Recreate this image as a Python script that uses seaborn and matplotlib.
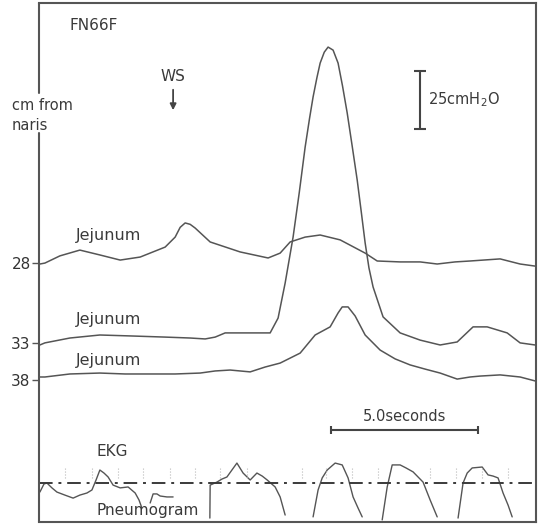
import numpy as np
import seaborn as sns
import matplotlib.pyplot as plt

# time in seconds, pressure in cmH2O (traces stacked on one scale)
t_28 = [0.03, 0.20, 0.71, 1.39, 2.07, 2.76, 3.44, 4.29, 4.63, 4.80, 4.97, 5.14, 5.31, 5.82, 6.84, 7.79, 8.20,
        8.54, 9.05, 9.56, 10.24, 11.09, 11.50, 12.28, 12.96, 13.54, 14.15, 14.66, 15.68, 16.36, 16.87]
p_28 = [111.2, 111.6, 114.7, 117.2, 115.1, 112.9, 114.2, 118.5, 122.8, 127.0, 128.9, 128.3, 126.7, 120.7, 116.4, 113.8, 115.9,
        120.7, 122.8, 123.7, 121.6, 115.9, 112.5, 112.1, 112.1, 111.2, 112.1, 112.5, 113.4, 111.2, 110.3]

t_33 = [0.03, 0.20, 1.05, 2.07, 3.10, 4.29, 5.14, 5.65, 5.99, 6.33, 7.01, 7.86, 8.13, 8.37, 8.64,
        8.85, 9.05, 9.20, 9.32, 9.45, 9.56, 9.70, 9.83, 10.0, 10.17, 10.32, 10.48, 10.65, 10.82, 10.96,
        11.09, 11.22, 11.36, 11.70, 12.28, 12.96, 13.64, 14.22, 14.76, 15.24, 15.92, 16.36, 16.87]
p_33 = [76.3, 77.2, 79.3, 80.6, 80.2, 79.7, 79.3, 78.9, 79.7, 81.5, 81.5, 81.5, 87.9, 103.0, 122.8,
        142.0, 161.6, 174.0, 183.2, 191.5, 197.8, 202.5, 204.7, 203.4, 197.8, 188.0, 176.3, 162.0, 147.4, 133.5,
        120.3, 109.5, 101.3, 88.4, 81.5, 78.4, 76.3, 77.6, 84.1, 84.1, 81.5, 77.2, 76.3]

t_38 = [0.03, 0.20, 1.05, 2.07, 2.93, 3.78, 4.63, 5.48, 5.99, 6.50, 7.18, 7.69, 8.20, 8.88, 9.39,
        9.90, 10.17, 10.31, 10.51, 10.75, 11.09, 11.60, 12.11, 12.62, 13.13, 13.64, 14.22, 14.66,
        15.00, 15.68, 16.36, 16.87]
p_38 = [62.5, 62.5, 63.8, 64.2, 63.8, 63.8, 63.8, 64.2, 65.1, 65.5, 64.7, 66.8, 68.5, 72.8, 80.6,
        84.1, 90.1, 92.7, 92.7, 88.8, 80.6, 74.1, 70.3, 67.7, 65.9, 64.2, 61.6, 62.5,
        62.9, 63.4, 62.5, 60.8]

# pneumogram pieces
pn_t = [
    [0.03, 0.17, 0.27, 0.44, 0.61, 0.88, 1.16, 1.39, 1.63, 1.80, 1.94, 2.07, 2.21, 2.35, 2.52, 2.76, 3.03, 3.27, 3.40, 3.50],
    [3.78, 3.88, 4.01, 4.12, 4.35, 4.56],
    [5.81, 5.82, 6.05, 6.22, 6.39, 6.56, 6.73, 6.94, 7.18, 7.41, 7.59, 7.76, 8.03, 8.20, 8.37],
    [9.32, 9.49, 9.63, 9.80, 10.07, 10.31, 10.51, 10.68, 10.85, 10.99],
    [11.67, 11.84, 12.01, 12.28, 12.48, 12.72, 13.06, 13.30, 13.54],
    [14.25, 14.42, 14.56, 14.73, 15.07, 15.27, 15.44, 15.61, 15.78, 15.95, 16.09],
]
pn_p = [
    [12.9, 16.4, 16.8, 14.7, 12.9, 11.6, 10.3, 11.6, 12.5, 13.8, 18.1, 22.4, 21.1, 19.4, 15.9, 14.7, 15.1, 12.5, 9.5, 6.0],
    [8.2, 12.1, 12.1, 11.2, 10.8, 10.8],
    [1.7, 15.9, 17.2, 18.5, 19.4, 22.4, 25.4, 21.1, 18.1, 21.1, 19.8, 18.1, 15.1, 10.8, 3.0],
    [2.2, 13.8, 19.0, 22.4, 25.4, 24.6, 19.0, 10.8, 6.0, 2.2],
    [0.9, 15.1, 24.6, 24.6, 23.3, 21.6, 17.2, 9.5, 2.2],
    [1.7, 16.8, 21.1, 23.3, 23.7, 20.3, 19.8, 19.0, 12.5, 7.3, 2.2],
]

ekg_level = 16.8
ekg_beats = [0.88, 1.80, 2.69, 3.54, 4.46, 5.31, 6.16, 7.07, 8.95, 9.76, 10.65, 11.53, 13.30, 14.18, 15.07, 15.95]

depth_labels = ["28", "33", "38"]
depth_pos = [111.6, 77.2, 61.2]

ws_time = 4.56

sns.set_style("white")
plt.rcParams['font.family'] = ['DejaVu Sans']

fig = plt.figure(figsize=(5.39, 5.26), dpi=100)
ax = fig.add_axes([39 / 539, 4 / 526, 497 / 539, 519 / 526])
ax.set_xlim(0, 16.9)
ax.set_ylim(0, 223.7)

ink = "#555555"
for tt, pp in [(t_28, p_28), (t_33, p_33), (t_38, p_38)]:
    sns.lineplot(x=tt, y=pp, ax=ax, sort=False, estimator=None, color=ink, lw=1.1)
for tt, pp in zip(pn_t, pn_p):
    sns.lineplot(x=tt, y=pp, ax=ax, sort=False, estimator=None, color=ink, lw=1.0)

ax.axhline(ekg_level, color="#3a3a3a", lw=1.4, linestyle=(0, (7, 3, 1.5, 3)))
ax.vlines(ekg_beats, 19.0, 23.5, color="#bbbbbb", lw=0.8, linestyles=":")

# frame, left side broken around the axis title
for s in ["top", "right", "bottom"]:
    ax.spines[s].set_color("#555555")
    ax.spines[s].set_linewidth(1.5)
ax.spines["left"].set_visible(False)
ax.axvline(0, 0, 0.7495, color="#555555", lw=1.5, clip_on=False)
ax.axvline(0, 0.8266, 1, color="#555555", lw=1.5, clip_on=False)

ax.set_xticks([])
ax.set_yticks(depth_pos, depth_labels)
ax.tick_params(axis="y", length=5, width=1, color="#555555", pad=1, labelsize=11, labelcolor="#333333", left=True)

tc = "#3a3a3a"
ax.text(1.05, 214.2, "FN66F", fontsize=11, color=tc, va="center")
ax.text(4.56, 192.2, "WS", fontsize=11, color=tc, va="center", ha="center")
ax.annotate("", xy=(ws_time, 176.3), xytext=(ws_time, 187.5),
            arrowprops=dict(arrowstyle="-|>", color="#444444", lw=1.3, mutation_scale=9))
ax.text(-0.93, 179.7, "cm from", fontsize=10.5, color=tc, va="center", clip_on=False)
ax.text(-0.93, 170.7, "naris", fontsize=10.5, color=tc, va="center", clip_on=False)

for y in [123.3, 87.1, 69.4]:
    ax.text(1.25, y, "Jejunum", fontsize=11.5, color=tc, va="center")

ax.errorbar([12.96], [181.9], yerr=[12.5], color="#444444", capsize=4, elinewidth=1.5, capthick=1.5)
ax.text(13.23, 181.9, "25cmH$_2$O", fontsize=10.5, color=tc, va="center")

ax.errorbar([12.43], [39.7], xerr=[2.5], color="#444444", capsize=3, elinewidth=1.5, capthick=1.5)
ax.text(12.43, 45.5, "5.0seconds", fontsize=10.5, color=tc, va="center", ha="center")

ax.text(1.97, 30.2, "EKG", fontsize=11, color=tc, va="center")
ax.text(1.97, 4.8, "Pneumogram", fontsize=11, color=tc, va="center")

fig.savefig("out.png", dpi=100)
